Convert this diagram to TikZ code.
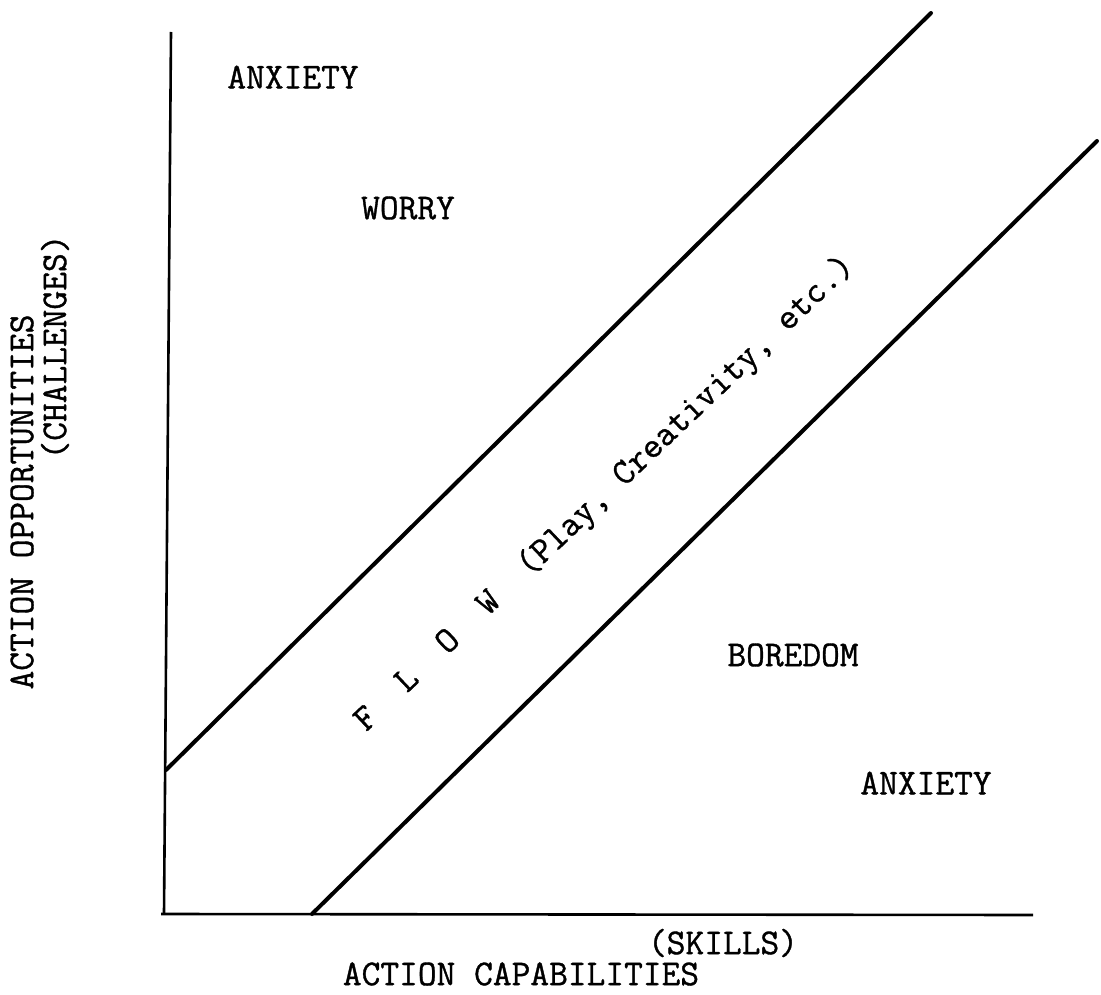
\documentclass[tikz,border=0pt]{standalone}
\usepackage{fontspec}
\newfontfamily\typer{Latin Modern Mono}[FakeBold=1]
\usepackage{tikz}
\usetikzlibrary{positioning}

\begin{document}
\begin{tikzpicture}[
    x=1pt, y=-1pt,
    region/.style={font=\typer\fontsize{36.4}{42}\selectfont, inner sep=0pt},
    axis/.style={line width=2.6pt},
    band/.style={line width=4pt, line cap=round}
]
    \useasboundingbox (0,0) rectangle (1101,995);

    % axes
    \coordinate (ytop) at (171,32);
    \coordinate (origin) at (164,914);
    \coordinate (xstart) at (161,914);
    \coordinate (xend) at (1033,915);
    \draw[axis] (ytop) -- (origin);
    \draw[axis] (xstart) -- (xend);

    % flow channel
    \coordinate (upperA) at (166,770);
    \coordinate (upperB) at (931,13);
    \coordinate (lowerA) at (312,914);
    \coordinate (lowerB) at (1097,141);
    \draw[band] (upperA) -- (upperB);
    \draw[band] (lowerA) -- (lowerB);

    \node[region] (anxtop) at (293,77) {ANXIETY};
    \node[region] (worry) at (408,208) {WORRY};
    \node[region] (boredom) at (793,655) {BOREDOM};
    \node[region] (anxbottom) at (926,783) {ANXIETY};
    \node[region, rotate=43.5] (flow) at (605,494) {F~~L~~O~~W~~(Play, Creativity, etc.)};

    % axis names
    \node[region] (skills) at (723,943) {(SKILLS)};
    \node[region] (capab) at (521,974) {ACTION CAPABILITIES};
    \node[region, rotate=90] (opport) at (22,502) {ACTION OPPORTUNITIES};
    \node[region, rotate=90] (challenges) at (55,347) {(CHALLENGES)};
\end{tikzpicture}
\end{document}
